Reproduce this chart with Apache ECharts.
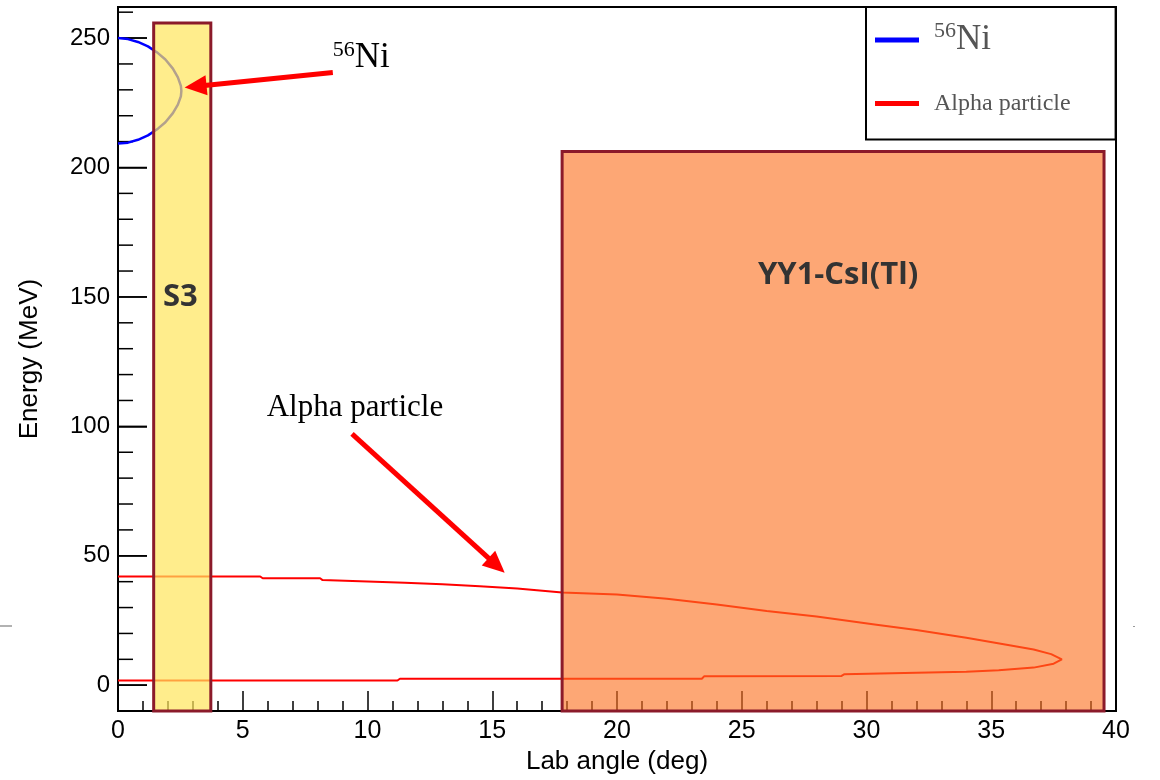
<!DOCTYPE html>
<html>
<head>
<meta charset="utf-8">
<script src="https://cdn.jsdelivr.net/npm/echarts@6/dist/echarts.min.js"></script>
<style>
html,body{margin:0;padding:0;background:#fff;}
#chart{width:1160px;height:780px;}
</style>
</head>
<body>
<div id="chart"></div>
<script>
// ---- axis ticks ----
const xMin = 0, xMax = 40, xStep = 5;
const yMin = -10, yMax = 262;
const yMajorTicks = [0, 50, 100, 150, 200, 250];
const yMinorTicks = [10,20,30,40,60,70,80,90,110,120,130,140,160,170,180,190,210,220,230,240,260];

// ---- 56Ni kinematic curve (lab angle deg, energy MeV) ----
const niAngle  = [0, 0.4, 0.8, 1.2, 1.6, 1.9, 2.2, 2.4, 2.52, 2.54, 2.52, 2.4, 2.2, 1.9, 1.6, 1.2, 0.8, 0.4, 0];
const niEnergy = [250.0, 249.6, 248.5, 246.8, 244.2, 241.7, 238.2, 234.8, 231.5, 229.6, 227.5, 224.3, 221.0, 217.5, 215.0, 212.4, 210.7, 209.6, 209.3];

// ---- alpha particle kinematic curve ----
const alphaAngle  = [0, 5.7, 5.8, 8.1, 8.2, 10, 11.5, 13, 14.5, 16, 17.8, 20, 22, 24, 26, 28, 30.4, 32, 34, 35.5, 36.7, 37.4, 37.83, 37.5, 36.7, 35.3, 34, 32, 29.1, 29.0, 23.5, 23.4, 11.3, 11.2, 0];
const alphaEnergy = [42.0, 42.0, 41.3, 41.3, 40.6, 40.1, 39.6, 39.0, 38.2, 37.4, 35.8, 35.0, 33.4, 31.2, 28.7, 26.5, 23.4, 21.3, 18.3, 15.8, 13.8, 12.0, 10.0, 8.3, 6.8, 5.8, 5.2, 4.8, 4.2, 3.6, 3.5, 2.5, 2.5, 1.8, 1.8];

// ---- detectors ----
const detNames  = ['S3', 'YY1-CsI(Tl)'];
const detAngMin = [1.43, 17.8];
const detAngMax = [3.72, 39.52];
const detEMax   = [255.8, 206.2];
const detLabelAng = [2.5, 28.86];
const detLabelE   = [150, 158.5];

// ---- annotations ----
const arrowTail = [[8.61, 236.7], [9.38, 97.1]];
const arrowTip  = [[2.67, 230.9], [15.5, 43.4]];
const noteText  = ['{s|56}{n|Ni}', 'Alpha particle'];
const notePos   = [[8.61, 235.6], [5.96, 107.3]];

const niData = niAngle.map((a, i) => [a, niEnergy[i]]);
const alphaData = alphaAngle.map((a, i) => [a, alphaEnergy[i]]);
const detData = detNames.map((n, i) => [detAngMin[i], detAngMax[i], detEMax[i], detLabelAng[i], detLabelE[i], i]);
const arrowData = arrowTail.map((t, i) => [t[0], t[1], arrowTip[i][0], arrowTip[i][1]]);
const noteData = notePos.map((p, i) => [p[0], p[1], i]);
const yTickData = yMinorTicks.map(v => [xMin, v, 0]).concat(yMajorTicks.map(v => [xMin, v, 1]));
const yTickLen = [15, 29];

const detFill = ['rgba(255,229,91,0.7)', 'rgba(252,113,32,0.62)'];
const sansFont = '"Liberation Sans", Arial, sans-serif';
const serifFont = '"Liberation Serif", "Times New Roman", serif';

const chart = echarts.init(document.getElementById('chart'));

const option = {
  backgroundColor: '#fff',
  animation: false,
  grid: { left: 118, right: 44, top: 7, bottom: 65, show: true, borderColor: '#000', borderWidth: 2, backgroundColor: 'transparent' },
  legend: {
    orient: 'vertical',
    left: 866, top: 7,
    padding: [13, 45, 24, 9],
    itemGap: 34,
    itemWidth: 44, itemHeight: 5,
    backgroundColor: '#fff',
    borderColor: '#000', borderWidth: 2,
    data: [{ name: '56Ni', icon: 'rect' }, { name: 'Alpha particle', icon: 'rect' }],
    formatter: function (name) { return name === '56Ni' ? '{s|56}{n|Ni}' : '{a|Alpha particle}'; },
    textStyle: {
      color: '#555',
      fontFamily: serifFont,
      padding: [0, 0, 0, 10],
      rich: {
        s: { fontSize: 22, fontFamily: serifFont, color: '#555', verticalAlign: 'top', lineHeight: 40, padding: [0, 0, 14, 0] },
        n: { fontSize: 35, fontFamily: serifFont, color: '#555', lineHeight: 40 },
        a: { fontSize: 24, fontFamily: serifFont, color: '#555', lineHeight: 26 }
      }
    }
  },
  xAxis: {
    type: 'value', min: xMin, max: xMax, interval: xStep,
    name: 'Lab angle (deg)', nameLocation: 'middle', nameGap: 36,
    nameTextStyle: { fontFamily: sansFont, fontSize: 26, color: '#000' },
    axisLine: { show: true, onZero: false, lineStyle: { color: '#000', width: 2 } },
    axisTick: { show: true, inside: true, length: 20, lineStyle: { color: '#000', width: 1.5 } },
    minorTick: { show: true, splitNumber: 5, length: 10, lineStyle: { color: '#000', width: 1.5 } },
    axisLabel: { fontFamily: sansFont, fontSize: 25, color: '#000', margin: 8 },
    splitLine: { show: false }
  },
  yAxis: {
    type: 'value', min: yMin, max: yMax, position: 'left',
    name: 'Energy (MeV)', nameLocation: 'middle', nameGap: 75, nameRotate: 90,
    nameTextStyle: { fontFamily: sansFont, fontSize: 26, color: '#000' },
    axisLine: { show: true, onZero: false, lineStyle: { color: '#000', width: 2 } },
    axisTick: { show: true, inside: true, length: 29, customValues: yMajorTicks, lineStyle: { color: '#000', width: 1.5 } },
    axisLabel: { fontFamily: sansFont, fontSize: 24, color: '#000', margin: 8, customValues: yMajorTicks },
    splitLine: { show: false }
  },
  series: [
    {
      name: 'yTicks', type: 'custom', z: 1, data: yTickData, silent: true,
      renderItem: function (params, api) {
        const p = api.coord([api.value(0), api.value(1)]);
        const len = yTickLen[api.value(2)];
        return { type: 'line', shape: { x1: p[0], y1: p[1], x2: p[0] + len, y2: p[1] }, style: { stroke: '#000', lineWidth: 1.5 } };
      }
    },
    {
      name: '56Ni', type: 'line', data: niData, showSymbol: false, symbol: 'none',
      lineStyle: { color: '#0000ff', width: 2.5 }, itemStyle: { color: '#0000ff' }, z: 2
    },
    {
      name: 'Alpha particle', type: 'line', data: alphaData, showSymbol: false, symbol: 'none',
      lineStyle: { color: '#ff0000', width: 2 }, itemStyle: { color: '#ff0000' }, z: 2
    },
    {
      name: 'detectors', type: 'custom', z: 3, data: detData,
      renderItem: function (params, api) {
        const i = api.value(5);
        const p0 = api.coord([api.value(0), api.value(2)]);
        const p1 = api.coord([api.value(1), yMin]);
        const lp = api.coord([api.value(3), api.value(4)]);
        return {
          type: 'group',
          children: [
            { type: 'rect', shape: { x: p0[0], y: p0[1], width: p1[0] - p0[0], height: p1[1] - p0[1] },
              style: { fill: detFill[i], stroke: '#8b1a2a', lineWidth: 3 } },
            { type: 'text', x: lp[0], y: lp[1],
              style: { text: detNames[i], fill: '#333', font: 'bold 31px "Open Sans", sans-serif', align: 'center', verticalAlign: 'middle' } }
          ]
        };
      }
    },
    {
      name: 'arrows', type: 'custom', z: 4, data: arrowData,
      renderItem: function (params, api) {
        const t = api.coord([api.value(0), api.value(1)]);
        const h = api.coord([api.value(2), api.value(3)]);
        const dx = h[0] - t[0], dy = h[1] - t[1];
        const L = Math.sqrt(dx * dx + dy * dy);
        const ux = dx / L, uy = dy / L;
        const headL = 22, headW = 10;
        const bx = h[0] - ux * headL, by = h[1] - uy * headL;
        return {
          type: 'group',
          children: [
            { type: 'line', shape: { x1: t[0], y1: t[1], x2: bx + ux * 2, y2: by + uy * 2 }, style: { stroke: '#ff0000', lineWidth: 5 } },
            { type: 'polygon', shape: { points: [[h[0], h[1]], [bx - uy * headW, by + ux * headW], [bx + uy * headW, by - ux * headW]] }, style: { fill: '#ff0000' } }
          ]
        };
      }
    },
    {
      name: 'notes', type: 'custom', z: 4, data: noteData,
      renderItem: function (params, api) {
        const i = api.value(2);
        const p = api.coord([api.value(0), api.value(1)]);
        if (i === 0) {
          return { type: 'text', x: p[0], y: p[1],
            style: { text: noteText[0], align: 'left', verticalAlign: 'bottom', fill: '#000',
              rich: { s: { fontSize: 22, fontFamily: serifFont, fill: '#000', verticalAlign: 'top', lineHeight: 36, padding: [0, 0, 14, 0] },
                      n: { fontSize: 35, fontFamily: serifFont, fill: '#000', lineHeight: 36 } } } };
        }
        return { type: 'text', x: p[0], y: p[1],
          style: { text: noteText[1], align: 'left', verticalAlign: 'middle', fill: '#000', font: '31px ' + serifFont } };
      }
    }
  ],
  graphic: [
    { type: 'line', shape: { x1: 0, y1: 626, x2: 12, y2: 626 }, style: { stroke: '#999', lineWidth: 1.5 } },
    { type: 'rect', shape: { x: 1133, y: 626, width: 2, height: 1 }, style: { fill: '#999' } }
  ]
};
chart.setOption(option);
</script>
</body>
</html>
